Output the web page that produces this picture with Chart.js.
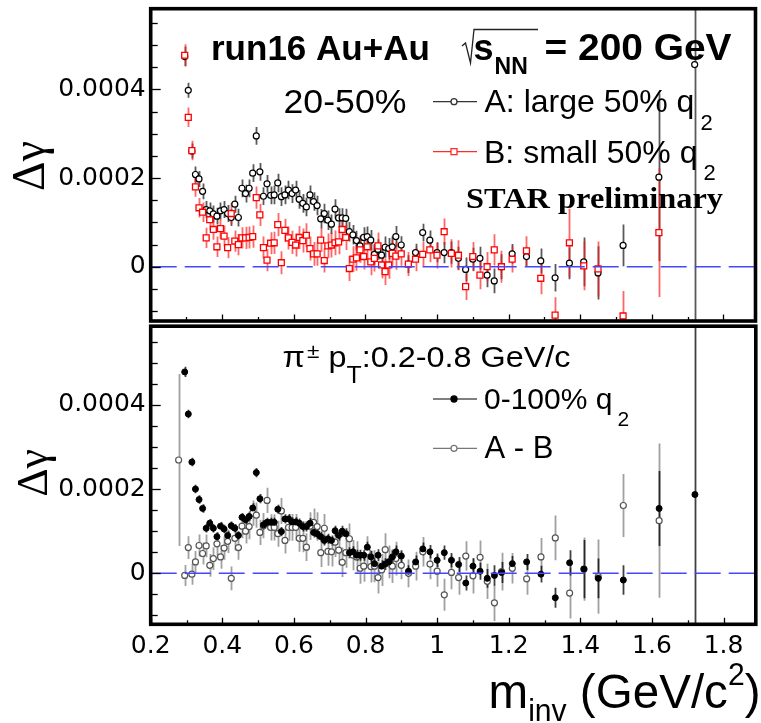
<!DOCTYPE html>
<html>
<head>
<meta charset="utf-8">
<script src="https://cdn.jsdelivr.net/npm/chart.js@4.4.1/dist/chart.umd.min.js"></script>
<style>
  html, body { margin: 0; padding: 0; background: #fff; }
  #wrap { position: relative; width: 761px; height: 723px; overflow: hidden; background: #fff; }
  canvas { position: absolute; left: 0; }
</style>
</head>
<body>
<div id="wrap">
  <canvas id="topPanel" width="761" height="330" style="top:0;width:761px;height:330px"></canvas>
  <canvas id="bottomPanel" width="761" height="402" style="top:321px;width:761px;height:402px"></canvas>
</div>
<script>
// invariant mass bin centres (GeV/c^2)
const mass = [0.278,
  0.295, 0.305, 0.315, 0.325, 0.335, 0.345, 0.355, 0.365, 0.375, 0.385,
  0.395, 0.405, 0.415, 0.425, 0.435, 0.445, 0.455, 0.465, 0.475, 0.485,
  0.495, 0.505, 0.515, 0.525, 0.535, 0.545, 0.555, 0.565, 0.575, 0.585,
  0.595, 0.605, 0.615, 0.625, 0.635, 0.645, 0.655, 0.665, 0.675, 0.685,
  0.695, 0.705, 0.715, 0.725, 0.735, 0.745, 0.755, 0.765, 0.775, 0.785,
  0.795, 0.805, 0.815, 0.825, 0.835, 0.845, 0.855, 0.865, 0.875, 0.885,
  0.90, 0.92, 0.94, 0.96, 0.98, 1.00, 1.02, 1.04, 1.06, 1.08,
  1.10, 1.12, 1.14, 1.16, 1.18,
  1.21, 1.25, 1.29, 1.33, 1.37, 1.41, 1.45,
  1.52, 1.62, 1.72];

// all delta-gamma values below are in units of 1e-4
// A: large 50% q2 (20-50%)
const gammaA = [null,
  4.74, 3.98, 2.61, 2.08, 1.98, 1.70, 1.29, 1.26, 1.19, 1.14,
  1.26, 1.29, 1.20, 1.11, 1.41, 1.11, 1.77, 1.65, 1.77, 2.11,
  2.95, 2.14, 1.59, 1.87, 1.61, 1.62, 1.89, 1.58, 1.62, 1.73,
  1.65, 1.73, 1.52, 1.43, 1.35, 1.62, 1.47, 1.38, 1.08, 1.20,
  1.05, 0.96, 1.30, 1.10, 1.10, 1.09, 0.79, 0.72, 0.59, 0.47,
  0.66, 0.68, 0.60, 0.28, 0.39, 0.26, 0.44, 0.41, 0.45, 0.68,
  0.49, 0.06, 0.32, 0.77, 0.60, 0.32, 0.32, 0.32, 0.19, -0.06,
  0.17, 0.19, -0.19, -0.32, 0.00,
  0.29, 0.23, 0.13, -0.25, 0.08, 0.11, -0.14,
  0.48, 2.02, 4.56];
const errA = [null,
  0.22, 0.17, 0.17, 0.18, 0.18, 0.18, 0.19, 0.19, 0.19, 0.19,
  0.19, 0.19, 0.19, 0.19, 0.19, 0.20, 0.20, 0.20, 0.20, 0.20,
  0.20, 0.20, 0.20, 0.20, 0.20, 0.21, 0.21, 0.21, 0.21, 0.21,
  0.21, 0.21, 0.21, 0.21, 0.21, 0.21, 0.21, 0.22, 0.22, 0.22,
  0.22, 0.22, 0.22, 0.22, 0.22, 0.22, 0.22, 0.22, 0.22, 0.23,
  0.23, 0.23, 0.23, 0.23, 0.23, 0.23, 0.24, 0.24, 0.24, 0.24,
  0.20, 0.20, 0.20, 0.20, 0.22, 0.22, 0.24, 0.25, 0.26, 0.27,
  0.26, 0.26, 0.27, 0.28, 0.28,
  0.22, 0.22, 0.28, 0.31, 0.36, 0.55, 0.60,
  0.47, 1.89, 6.4];

// B: small 50% q2 (20-50%)
const gammaB = [null,
  4.77, 3.37, 2.62, 1.80, 1.33, 1.23, 0.65, 1.06, 0.84, 0.45,
  0.86, 0.69, 0.43, 1.20, 0.58, 0.50, 0.65, 0.65, 0.66, 0.68,
  1.56, 1.17, 0.43, 0.15, 0.53, 0.54, 0.95, 0.09, 0.82, 0.65,
  0.55, 0.49, 0.66, 0.59, 0.71, 0.41, 0.29, 0.29, 0.60, 0.14,
  0.47, 0.49, 0.54, 0.56, 0.84, 0.66, -0.04, 0.17, 0.20, 0.38,
  0.23, 0.45, 0.11, 0.19, 0.47, 0.04, -0.11, 0.04, 0.30, 0.24,
  0.29, 0.06, 0.17, 0.28, 0.38, 0.26, 0.79, 0.30, 0.26, -0.45,
  0.23, -0.19, 0.00, 0.38, 0.00,
  0.17, 0.36, -0.26, -1.09, 0.54, 0.02, -0.05,
  -1.11, 0.77, null];
const errB = [null,
  0.25, 0.22, 0.22, 0.22, 0.22, 0.22, 0.23, 0.23, 0.23, 0.23,
  0.23, 0.24, 0.24, 0.24, 0.24, 0.24, 0.24, 0.25, 0.25, 0.25,
  0.25, 0.25, 0.25, 0.25, 0.25, 0.25, 0.26, 0.26, 0.26, 0.26,
  0.26, 0.26, 0.26, 0.27, 0.27, 0.27, 0.27, 0.27, 0.27, 0.27,
  0.28, 0.28, 0.28, 0.28, 0.28, 0.28, 0.28, 0.29, 0.29, 0.29,
  0.29, 0.29, 0.30, 0.30, 0.30, 0.30, 0.30, 0.31, 0.31, 0.31,
  0.27, 0.27, 0.27, 0.28, 0.28, 0.30, 0.30, 0.32, 0.34, 0.30,
  0.33, 0.32, 0.33, 0.35, 0.36,
  0.30, 0.33, 0.36, 0.40, 0.77, 0.55, 0.62,
  0.56, 1.45, null];

// 0-100% q2
const gammaAll = [null,
  4.78, 3.78, 2.64, 2.00, 1.75, 1.54, 1.07, 1.19, 1.07, 0.87,
  1.12, 1.05, 0.90, 1.13, 1.07, 0.90, 1.33, 1.27, 1.35, 1.55,
  2.39, 1.77, 1.15, 1.21, 1.21, 1.21, 1.52, 0.99, 1.29, 1.29,
  1.22, 1.22, 1.19, 1.11, 1.11, 1.19, 0.97, 0.94, 0.87, 0.78,
  0.82, 0.78, 1.01, 0.90, 1.00, 0.94, 0.49, 0.51, 0.43, 0.43,
  0.43, 0.62, 0.39, 0.23, 0.43, 0.17, 0.22, 0.27, 0.39, 0.51,
  0.41, 0.05, 0.27, 0.58, 0.51, 0.31, 0.49, 0.31, 0.21, -0.23,
  0.17, 0.05, -0.12, -0.05, 0.02,
  0.23, 0.27, -0.02, -0.58, 0.25, 0.10, -0.12,
  -0.16, 1.54, 1.87];
const errAll = [null,
  0.12, 0.10, 0.10, 0.10, 0.10, 0.10, 0.10, 0.10, 0.10, 0.10,
  0.10, 0.10, 0.10, 0.10, 0.10, 0.10, 0.10, 0.10, 0.11, 0.11,
  0.11, 0.11, 0.11, 0.11, 0.11, 0.11, 0.11, 0.11, 0.11, 0.11,
  0.11, 0.11, 0.11, 0.12, 0.12, 0.12, 0.12, 0.12, 0.12, 0.12,
  0.12, 0.12, 0.12, 0.12, 0.13, 0.13, 0.13, 0.13, 0.13, 0.13,
  0.13, 0.13, 0.14, 0.14, 0.14, 0.14, 0.14, 0.14, 0.15, 0.15,
  0.14, 0.14, 0.15, 0.15, 0.16, 0.16, 0.17, 0.17, 0.18, 0.18,
  0.19, 0.20, 0.22, 0.24, 0.25,
  0.18, 0.19, 0.20, 0.24, 0.30, 0.69, 0.47,
  0.35, 0.89, 9.0];

// A - B
const gammaDiff = [2.69,
  -0.05, 0.61, -0.02, 0.27, 0.66, 0.47, 0.65, 0.19, 0.35, 0.70,
  0.39, 0.60, 0.76, -0.12, 0.83, 0.61, 1.12, 1.00, 1.11, 1.43,
  1.38, 0.97, 1.13, 1.73, 1.09, 1.09, 0.94, 1.48, 0.78, 1.09,
  1.09, 1.09, 0.83, 0.83, 0.62, 1.12, 1.21, 1.11, 0.49, 1.07,
  0.52, 0.51, 0.74, 0.55, 0.26, 0.49, 0.82, 0.43, 0.39, 0.12,
  0.17, 0.51, 0.16, 0.17, -0.10, 0.08, 0.56, 0.27, 0.17, 0.35,
  0.19, 0.00, 0.17, 0.51, 0.22, 0.05, -0.51, 0.02, -0.10, 0.41,
  -0.06, 0.38, -0.19, -0.70, 0.04,
  0.12, -0.13, 0.39, 0.84, -0.47, 0.10, -0.08,
  1.61, 1.25, null];
const errDiff = [2.04,
  0.25, 0.27, 0.25, 0.26, 0.26, 0.26, 0.27, 0.27, 0.27, 0.28,
  0.28, 0.28, 0.28, 0.28, 0.29, 0.29, 0.29, 0.29, 0.30, 0.30,
  0.30, 0.30, 0.30, 0.30, 0.31, 0.31, 0.31, 0.31, 0.31, 0.32,
  0.32, 0.32, 0.32, 0.33, 0.33, 0.33, 0.33, 0.34, 0.34, 0.34,
  0.34, 0.35, 0.35, 0.35, 0.35, 0.36, 0.36, 0.36, 0.37, 0.37,
  0.37, 0.37, 0.38, 0.38, 0.38, 0.38, 0.39, 0.39, 0.40, 0.40,
  0.33, 0.33, 0.34, 0.35, 0.36, 0.37, 0.38, 0.40, 0.41, 0.35,
  0.42, 0.40, 0.42, 0.43, 0.45,
  0.36, 0.38, 0.45, 0.53, 0.60, 0.75, 0.88,
  0.75, 1.83, null];

const xTicks = [0.2, 0.4, 0.6, 0.8, 1.0, 1.2, 1.4, 1.6, 1.8];
const yTicks = [0, 0.0002, 0.0004];

const UNIT = 1e-4;
const SANS = '"Liberation Sans", Arial, Helvetica, sans-serif';
const SERIF = '"Liberation Serif", "Times New Roman", serif';
const TICKFONT = '"DejaVu Sans", Arial, sans-serif';

function points(vals) {
  return mass.map((m, i) => ({ x: m, y: vals[i] == null ? null : vals[i] * UNIT }));
}

// vertical error bars, drawn through the chart's own y scale
const errorBars = {
  id: 'errorBars',
  beforeDatasetsDraw(chart) {
    const { ctx, chartArea: a } = chart;
    const ys = chart.scales.y;
    ctx.save();
    ctx.beginPath();
    ctx.rect(a.left, a.top, a.right - a.left, a.bottom - a.top);
    ctx.clip();
    for (let di = chart.data.datasets.length - 1; di >= 0; di--) {
      const ds = chart.data.datasets[di];
      const meta = chart.getDatasetMeta(di);
      ctx.strokeStyle = ds.errColor;
      ctx.lineWidth = ds.errWidth;
      meta.data.forEach((pt, i) => {
        const v = ds.data[i].y, e = ds.errs[i];
        if (v == null || e == null) return;
        const x = Math.round(pt.x) + 0.5;
        ctx.beginPath();
        ctx.moveTo(x, ys.getPixelForValue(v - e * UNIT));
        ctx.lineTo(x, ys.getPixelForValue(v + e * UNIT));
        ctx.stroke();
      });
    }
    ctx.restore();
  }
};

// zero line, frame, inward ROOT-like ticks and the panel's texts
function makeFrame(texts) {
  return {
    id: 'frame',
    afterDatasetsDraw(chart) {
      const { ctx, chartArea: a } = chart;
      const y0 = chart.scales.y.getPixelForValue(0);
      ctx.save();
      ctx.strokeStyle = '#4646ff';
      ctx.lineWidth = 1.6;
      ctx.setLineDash([26, 8]);
      ctx.beginPath();
      ctx.moveTo(a.left, y0);
      ctx.lineTo(a.right, y0);
      ctx.stroke();
      ctx.restore();
    },
    afterDraw(chart) {
      const { ctx, chartArea: a } = chart;
      const xs = chart.scales.x, ys = chart.scales.y;
      ctx.save();
      ctx.strokeStyle = '#000';
      ctx.lineWidth = 1.3;
      for (let k = -4; k <= 12; k++) {
        const v = k * 0.5 * UNIT;
        if (v < ys.min || v > ys.max) continue;
        const py = Math.round(ys.getPixelForValue(v)) + 0.5;
        const len = k % 4 === 0 ? 10 : 7;
        ctx.beginPath();
        ctx.moveTo(a.left, py);
        ctx.lineTo(a.left + len, py);
        ctx.stroke();
      }
      for (let k = 2; k <= 18; k++) {
        const px = Math.round(xs.getPixelForValue(k / 10)) + 0.5;
        const len = k % 2 === 0 ? 6.5 : 4;
        ctx.beginPath();
        ctx.moveTo(px, a.bottom);
        ctx.lineTo(px, a.bottom - len);
        ctx.stroke();
      }
      ctx.lineWidth = 3.6;
      ctx.strokeRect(a.left, a.top, a.right - a.left, a.bottom - a.top);
      ctx.restore();
      texts(ctx);
    }
  };
}

function runs(ctx, x, y, parts, width) {
  let w = 0;
  parts.forEach(p => { ctx.font = p.font; p.w = ctx.measureText(p.t).width; w += p.w + (p.gap || 0); });
  const s = width ? width / w : 1;
  ctx.save();
  ctx.translate(x, y);
  ctx.scale(s, 1);
  ctx.textAlign = 'left';
  ctx.textBaseline = 'alphabetic';
  let cx = 0;
  parts.forEach(p => {
    ctx.font = p.font;
    ctx.fillStyle = p.color || '#000';
    cx += p.gap || 0;
    ctx.fillText(p.t, cx, p.dy || 0);
    cx += p.w;
  });
  ctx.restore();
}

function yTitle(ctx, x, y, size) {
  ctx.save();
  ctx.translate(x, y);
  ctx.rotate(-Math.PI / 2);
  ctx.font = size + 'px ' + SERIF;
  ctx.fillStyle = '#000';
  ctx.textAlign = 'center';
  ctx.textBaseline = 'alphabetic';
  ctx.fillText('\u0394\u03b3', 0, 0);
  ctx.restore();
}

function legendMark(ctx, y, color, style) {
  ctx.save();
  ctx.strokeStyle = color;
  ctx.lineWidth = 1.2;
  ctx.beginPath();
  ctx.moveTo(433, y);
  ctx.lineTo(477, y);
  ctx.stroke();
  ctx.lineWidth = 1.3;
  ctx.beginPath();
  if (style === 'rect') ctx.rect(451, y - 3, 6, 6);
  else ctx.arc(454, y, 3, 0, 2 * Math.PI);
  ctx.fillStyle = style === 'filled' ? color : '#fff';
  ctx.fill();
  ctx.stroke();
  ctx.restore();
}

function yAxis(min, max) {
  return {
    type: 'linear', min: min, max: max,
    afterFit: s => { s.width = 150.7; s.paddingTop = 0; s.paddingBottom = 0; },
    afterBuildTicks: s => { s.ticks = yTicks.map(v => ({ value: v })); },
    ticks: {
      font: { family: TICKFONT, size: 25 }, color: '#000', padding: 5,
      callback: v => (Math.abs(v) < 1e-9 ? '0' : v.toFixed(4))
    },
    grid: { display: false, drawTicks: false },
    border: { display: false }
  };
}

function xAxis(show) {
  return {
    type: 'linear', min: 0.2, max: 1.89, display: show,
    afterFit: s => {
      s.height = show ? 98.7 : 0;
      s.paddingLeft = 0; s.paddingRight = 0;
    },
    afterBuildTicks: s => { s.ticks = xTicks.map(v => ({ value: v })); },
    ticks: {
      font: { family: TICKFONT, size: 25 }, color: '#000', padding: 7,
      maxRotation: 0, autoSkip: false,
      callback: v => String(Math.round(v * 10) / 10)
    },
    grid: { display: false, drawTicks: false },
    border: { display: false }
  };
}

Chart.defaults.animation = false;
Chart.defaults.font.family = SANS;

const topTexts = ctx => {
  runs(ctx, 211, 59.5, [{ t: 'run16 Au+Au', font: 'bold 35px ' + SANS }]);
  ctx.save();
  ctx.strokeStyle = '#222';
  ctx.lineWidth = 1.3;
  ctx.beginPath();
  ctx.moveTo(462, 46);
  ctx.lineTo(465.5, 43);
  ctx.lineTo(470.5, 63);
  ctx.lineTo(474, 29.5);
  ctx.lineTo(538, 29.5);
  ctx.stroke();
  ctx.restore();
  runs(ctx, 473.5, 59.5, [
    { t: 's', font: 'bold 36px ' + SANS },
    { t: 'NN', font: 'bold 23px ' + SANS, dy: 14, gap: 1 }
  ]);
  runs(ctx, 544.5, 59.5, [{ t: '= 200 GeV', font: 'bold 36px ' + SANS }], 187);
  runs(ctx, 283.5, 113, [{ t: '20-50%', font: '33px ' + SANS }], 123);
  legendMark(ctx, 101.7, '#333', 'circle');
  runs(ctx, 484.5, 111.7, [
    { t: 'A: large 50% q', font: '32px ' + SANS },
    { t: '2', font: '22px ' + SANS, dy: 18.3, gap: 6 }
  ]);
  legendMark(ctx, 151.7, '#ff2a2a', 'rect');
  runs(ctx, 484, 163, [
    { t: 'B: small 50% q', font: '32px ' + SANS },
    { t: '2', font: '22px ' + SANS, dy: 17, gap: 6 }
  ]);
  runs(ctx, 466, 208, [{ t: 'STAR preliminary', font: 'bold 30px ' + SERIF }], 257);
  yTitle(ctx, 43.5, 166, 46);
};

const bottomTexts = ctx => {
  runs(ctx, 282.5, 45.7, [
    { t: '\u03c0', font: '30px ' + SANS },
    { t: '\u00b1', font: '21px ' + SANS, dy: -8.7, gap: 2 },
    { t: ' p', font: '30px ' + SANS },
    { t: 'T', font: '23px ' + SANS, dy: 16.3 },
    { t: ':0.2-0.8 GeV/c', font: '30px ' + SANS }
  ], 288);
  legendMark(ctx, 78, '#000', 'filled');
  runs(ctx, 484, 88, [
    { t: '0-100% q', font: '30px ' + SANS },
    { t: '2', font: '21px ' + SANS, dy: 17, gap: 5 }
  ]);
  legendMark(ctx, 127.3, '#777', 'circle');
  runs(ctx, 484.5, 137, [{ t: 'A - B', font: '31px ' + SANS }]);
  runs(ctx, 488.5, 387.3, [
    { t: 'm', font: '49px ' + SANS },
    { t: 'inv', font: '31px ' + SANS, dy: 13 },
    { t: ' (GeV/c', font: '49px ' + SANS },
    { t: '2', font: '31px ' + SANS, dy: -23.3 },
    { t: ')', font: '49px ' + SANS }
  ], 272);
  yTitle(ctx, 47, 152, 44);
};

new Chart(document.getElementById('topPanel'), {
  type: 'scatter',
  data: {
    datasets: [
      { label: 'B: small 50% q2', data: points(gammaB), errs: errB, order: 0,
        pointStyle: 'rect', pointRadius: 4.2, pointBorderWidth: 1.3,
        pointBorderColor: '#ff0000', pointBackgroundColor: '#fff',
        errColor: 'rgba(255,20,20,0.65)', errWidth: 1.8 },
      { label: 'A: large 50% q2', data: points(gammaA), errs: errA, order: 1,
        pointStyle: 'circle', pointRadius: 3, pointBorderWidth: 1.2,
        pointBorderColor: '#000', pointBackgroundColor: '#fff',
        errColor: 'rgba(0,0,0,0.65)', errWidth: 1.8 }
    ]
  },
  options: {
    responsive: false, maintainAspectRatio: false, devicePixelRatio: 1,
    layout: { padding: { left: 0, top: 8.7, right: 2.3, bottom: 9 } },
    scales: { x: xAxis(false), y: yAxis(-1.224e-4, 5.82e-4) },
    plugins: { legend: { display: false }, tooltip: { enabled: false } }
  },
  plugins: [errorBars, makeFrame(topTexts)]
});

new Chart(document.getElementById('bottomPanel'), {
  type: 'scatter',
  data: {
    datasets: [
      { label: '0-100% q2', data: points(gammaAll), errs: errAll, order: 0,
        pointStyle: 'circle', pointRadius: 3, pointBorderWidth: 1,
        pointBorderColor: '#000', pointBackgroundColor: '#000',
        errColor: 'rgba(0,0,0,0.75)', errWidth: 1.8 },
      { label: 'A - B', data: points(gammaDiff), errs: errDiff, order: 1,
        pointStyle: 'circle', pointRadius: 3, pointBorderWidth: 1.2,
        pointBorderColor: '#555', pointBackgroundColor: '#fff',
        errColor: 'rgba(120,120,120,0.7)', errWidth: 1.8 }
    ]
  },
  options: {
    responsive: false, maintainAspectRatio: false, devicePixelRatio: 1,
    layout: { padding: { left: 0, top: 0, right: 2.3, bottom: 0 } },
    scales: { x: xAxis(true), y: yAxis(-1.21e-4, 5.865e-4) },
    plugins: { legend: { display: false }, tooltip: { enabled: false } }
  },
  plugins: [errorBars, makeFrame(bottomTexts)]
});
</script>
</body>
</html>
